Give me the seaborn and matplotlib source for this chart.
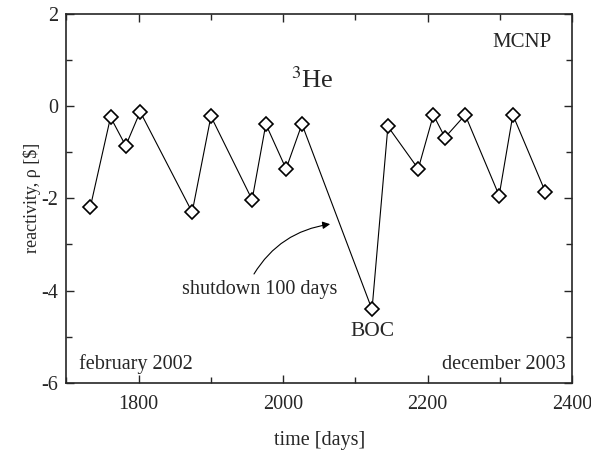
import pandas as pd
import matplotlib.pyplot as plt
import seaborn as sns
from matplotlib.ticker import MultipleLocator

# values
days = [1733, 1761, 1782, 1802, 1874, 1900, 1957, 1976, 2004, 2026,
        2123, 2145, 2187, 2208, 2224, 2252, 2299, 2318, 2363]
rho = [-2.19, -0.24, -0.86, -0.12, -2.30, -0.22, -2.03, -0.39, -1.36, -0.39,
       -4.41, -0.44, -1.36, -0.19, -0.68, -0.19, -1.94, -0.19, -1.86]

data = pd.DataFrame({"time": days, "rho": rho})

sns.set_style("ticks")
plt.rcParams['font.family'] = ['Liberation Serif', 'DejaVu Serif']
plt.rcParams['mathtext.fontset'] = 'stix'
plt.rcParams['axes.unicode_minus'] = False

fig = plt.figure(figsize=(5.91, 4.51), dpi=100)
ax = fig.add_axes([0.1125, 0.1514, 0.8555, 0.8176])

sns.lineplot(data=data, x="time", y="rho", ax=ax, color="black", linewidth=0.8,
             marker="D", markersize=6.8, markerfacecolor="white",
             markeredgecolor="black", markeredgewidth=1.2)

ax.set_xlim(1700, 2400)
ax.set_ylim(-6, 2)
ax.xaxis.set_major_locator(MultipleLocator(200))
ax.xaxis.set_minor_locator(MultipleLocator(100))
ax.yaxis.set_major_locator(MultipleLocator(2))
ax.yaxis.set_minor_locator(MultipleLocator(1))
ax.tick_params(which="both", direction="in", top=True, right=True,
               labelsize=14.5, width=1.0)
ax.tick_params(which="major", length=6, pad=6)
ax.tick_params(axis="x", which="major", pad=9)
ax.tick_params(which="minor", length=4)
for s in ax.spines.values():
    s.set_linewidth(1.2)

ax.set_xlabel("time [days]", fontsize=14.5, labelpad=12)
ax.set_ylabel("reactivity, ρ [$]", fontsize=13, labelpad=0)

ax.text(2041, 0.57, r"$^{3}$He", fontsize=19, ha="center", va="center")
ax.text(2371, 1.39, "MCNP", fontsize=15, ha="right", va="center")
ax.text(2123, -4.88, "BOC", fontsize=15.5, ha="center", va="center")
ax.text(1717, -5.6, "february 2002", fontsize=14.5, ha="left", va="center")
ax.text(2391, -5.6, "december 2003", fontsize=14.5, ha="right", va="center")

# curved arrow: starts right above the text and ends near the line
ax.annotate("shutdown 100 days", xy=(2065, -2.56), xytext=(1968, -3.97),
            fontsize=14.5, ha="center", va="center",
            arrowprops=dict(arrowstyle="-|>", color="black", lw=0.8,
                            connectionstyle="arc3,rad=-0.25",
                            relpos=(0.44, 1.0),
                            shrinkA=2, shrinkB=0, mutation_scale=11))

fig.savefig("out.png", dpi=100)
